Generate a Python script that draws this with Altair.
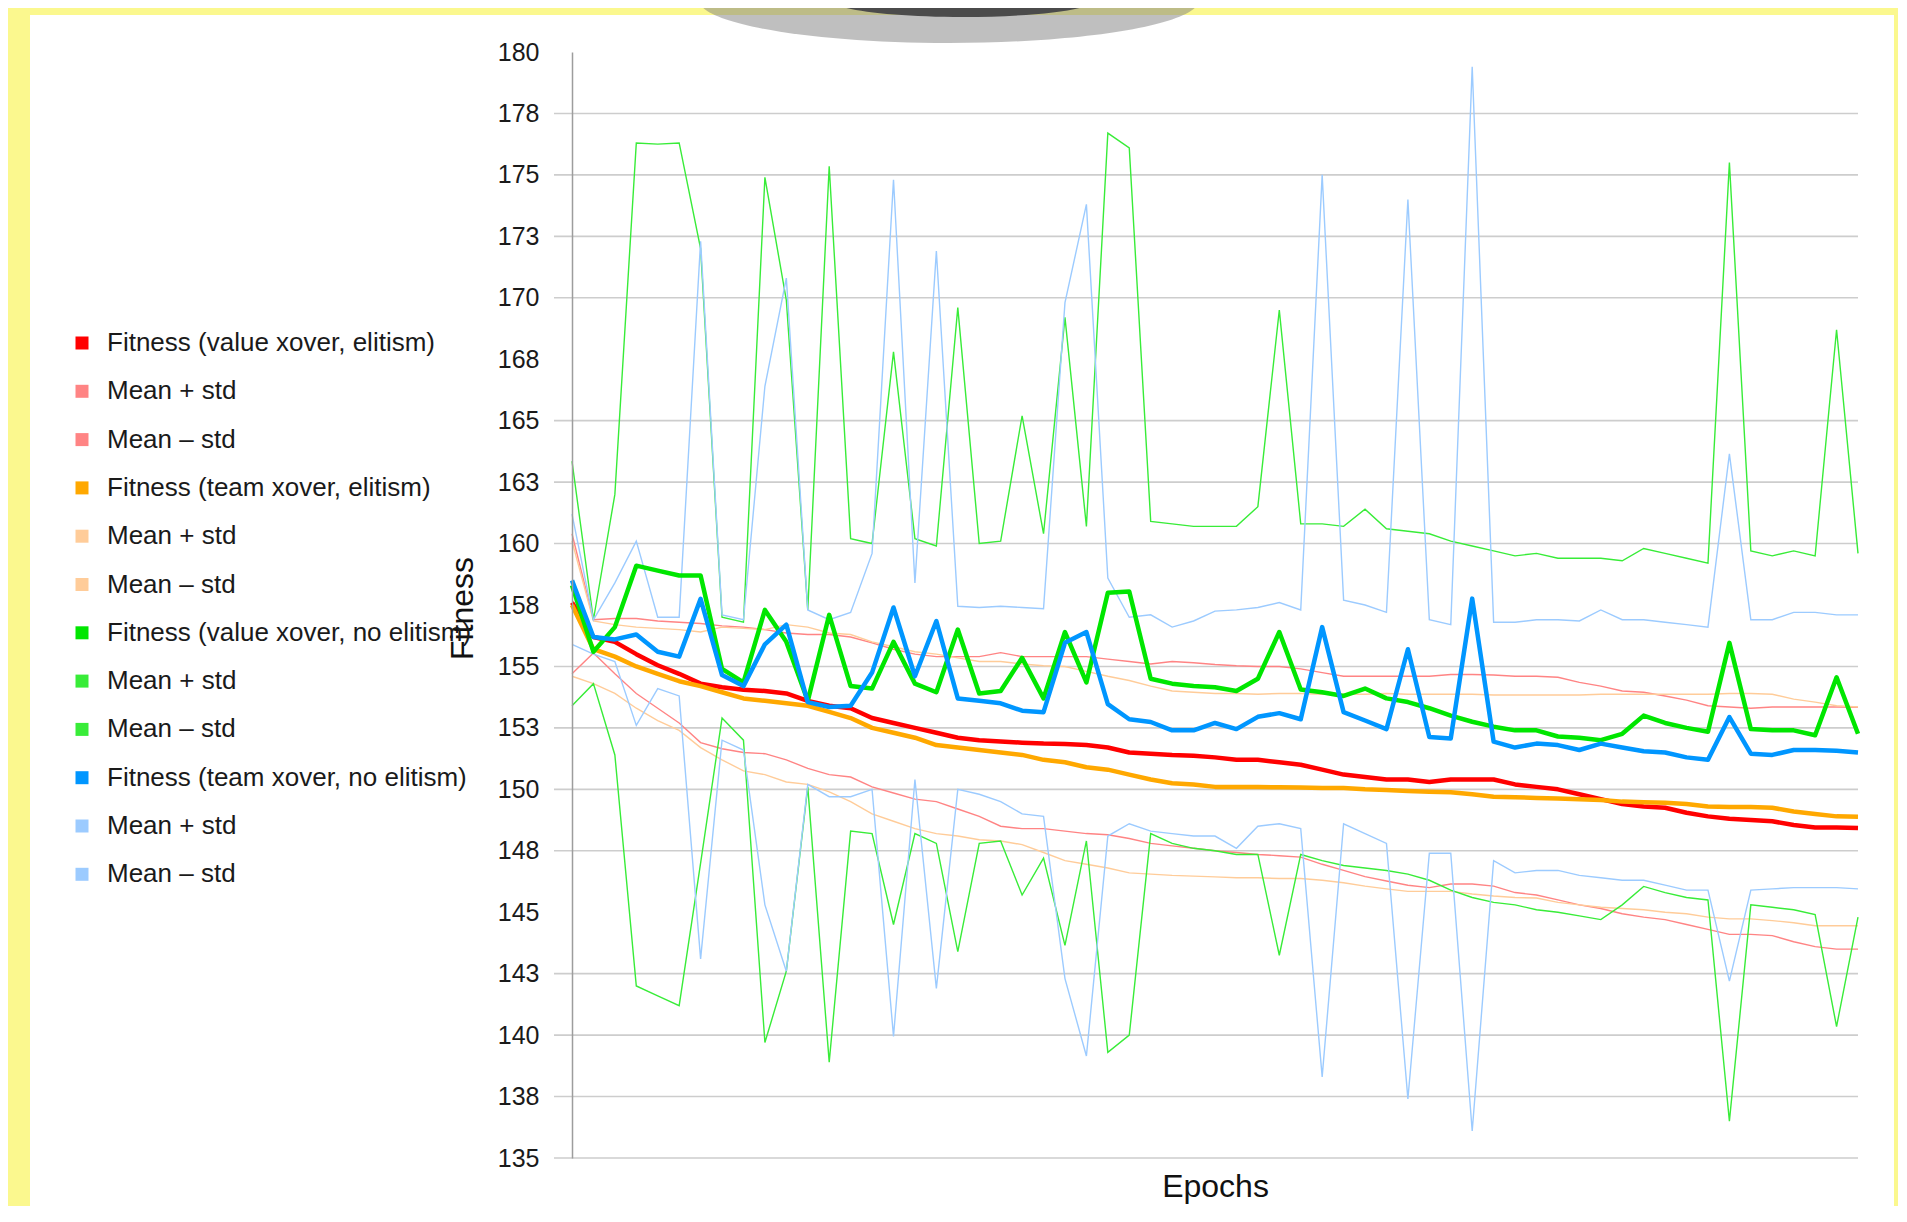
import json
import altair as alt
import pandas as pd

# ---------------- data ----------------
EPOCHS = list(range(61))

# Fitness (value xover, elitism) and its mean +/- std
RED_FIT = [157.6, 156.2, 156.0, 155.5, 155.05, 154.7, 154.3, 154.15, 154.05, 154.0,
           153.9, 153.6, 153.4, 153.3, 152.9, 152.7, 152.5, 152.3, 152.1, 152.0,
           151.95, 151.9, 151.86, 151.84, 151.8, 151.7, 151.5, 151.45, 151.4, 151.37,
           151.3, 151.2, 151.2, 151.1, 151.0, 150.8, 150.6, 150.5, 150.4, 150.4,
           150.3, 150.4, 150.4, 150.4, 150.2, 150.1, 150.0, 149.8, 149.6, 149.4,
           149.3, 149.25, 149.05, 148.9, 148.8, 148.75, 148.7, 148.55, 148.45, 148.45,
           148.43]
RED_PLUS = [160.4, 156.9, 156.95, 156.95, 156.85, 156.8, 156.75, 156.65, 156.6, 156.5,
            156.36, 156.3, 156.3, 156.2, 155.96, 155.7, 155.5, 155.4, 155.4, 155.4,
            155.56, 155.4, 155.4, 155.4, 155.4, 155.3, 155.2, 155.1, 155.2, 155.15,
            155.08, 155.03, 155.0, 155.0, 154.9, 154.75, 154.6, 154.6, 154.6, 154.6,
            154.6, 154.67, 154.67, 154.65, 154.6, 154.6, 154.56, 154.35, 154.2, 154.0,
            153.95, 153.8, 153.63, 153.4, 153.35, 153.3, 153.35, 153.35, 153.35, 153.35,
            153.34]
RED_MINUS = [154.7, 155.55, 154.7, 153.9, 153.3, 152.7, 151.9, 151.65, 151.5, 151.45,
             151.2, 150.85, 150.6, 150.5, 150.1, 149.85, 149.6, 149.5, 149.2, 148.9,
             148.5, 148.4, 148.4, 148.3, 148.2, 148.15, 148.0, 147.8, 147.7, 147.6,
             147.5, 147.43, 147.35, 147.3, 147.24, 146.95, 146.7, 146.45, 146.27, 146.1,
             146.0, 146.15, 146.15, 146.06, 145.8, 145.7, 145.5, 145.3, 145.15, 144.94,
             144.8, 144.7, 144.5, 144.3, 144.1, 144.1, 144.05, 143.8, 143.6, 143.5,
             143.5]

# Fitness (team xover, elitism)
ORA_FIT = [157.5, 155.7, 155.4, 155.0, 154.7, 154.4, 154.2, 153.95, 153.7, 153.6,
           153.5, 153.4, 153.15, 152.9, 152.5, 152.3, 152.1, 151.8, 151.7, 151.6,
           151.5, 151.4, 151.2, 151.1, 150.9, 150.8, 150.6, 150.4, 150.25, 150.2,
           150.1, 150.1, 150.1, 150.08, 150.07, 150.05, 150.05, 150.0, 149.97, 149.93,
           149.9, 149.88, 149.8, 149.7, 149.68, 149.65, 149.63, 149.6, 149.57, 149.5,
           149.47, 149.45, 149.4, 149.3, 149.28, 149.28, 149.25, 149.1, 149.0, 148.9,
           148.88]
ORA_PLUS = [160.1, 156.85, 156.7, 156.6, 156.55, 156.5, 156.4, 156.6, 156.55, 156.5,
            156.7, 156.6, 156.36, 156.3, 156.0, 155.8, 155.6, 155.5, 155.35, 155.2,
            155.2, 155.1, 155.03, 155.0, 154.8, 154.6, 154.43, 154.2, 154.0, 153.95,
            153.9, 153.9, 153.87, 153.9, 153.9, 153.87, 153.87, 153.87, 153.9, 153.87,
            153.87, 153.87, 153.87, 153.84, 153.84, 153.84, 153.84, 153.84, 153.87, 153.87,
            153.87, 153.87, 153.87, 153.87, 153.9, 153.9, 153.87, 153.67, 153.55, 153.4,
            153.35]
ORA_MINUS = [154.6, 154.3, 153.9, 153.3, 152.8, 152.4, 151.7, 151.2, 150.75, 150.6,
             150.3, 150.2, 149.9, 149.5, 149.0, 148.7, 148.4, 148.2, 148.1, 147.95,
             147.9, 147.75, 147.43, 147.1, 146.95, 146.8, 146.6, 146.55, 146.5, 146.47,
             146.44, 146.4, 146.4, 146.37, 146.37, 146.3, 146.2, 146.06, 145.95, 145.85,
             145.85, 145.85, 145.74, 145.66, 145.6, 145.58, 145.4, 145.3, 145.2, 145.15,
             145.1, 145.0, 144.94, 144.8, 144.73, 144.73, 144.66, 144.57, 144.45, 144.45,
             144.45]

# Fitness (value xover, no elitism)
GRN_FIT = [158.3, 155.6, 156.6, 159.1, 158.9, 158.7, 158.7, 154.9, 154.35, 157.3,
           156.0, 153.6, 157.1, 154.2, 154.1, 156.0, 154.3, 153.95, 156.5, 153.9,
           154.0, 155.35, 153.7, 156.4, 154.35, 158.0, 158.05, 154.5, 154.3, 154.2,
           154.15, 154.0, 154.5, 156.4, 154.06, 153.95, 153.8, 154.1, 153.7, 153.55,
           153.3, 153.0, 152.75, 152.55, 152.4, 152.4, 152.15, 152.1, 152.0, 152.26,
           153.0, 152.7, 152.5, 152.34, 155.96, 152.45, 152.4, 152.4, 152.2, 154.56,
           152.26]
GRN_PLUS = [163.35, 156.9, 162.0, 176.3, 176.25, 176.3, 172.0, 157.0, 156.8, 174.9,
            169.9, 157.3, 175.35, 160.2, 160.0, 167.8, 160.2, 159.9, 169.6, 160.0,
            160.1, 165.2, 160.4, 169.2, 160.7, 176.7, 176.1, 160.9, 160.8, 160.7,
            160.7, 160.7, 161.5, 169.5, 160.8, 160.8, 160.7, 161.4, 160.6, 160.5,
            160.4, 160.1, 159.9, 159.7, 159.5, 159.6, 159.4, 159.4, 159.4, 159.3,
            159.8, 159.6, 159.4, 159.2, 175.5, 159.7, 159.5, 159.7, 159.5, 168.7,
            159.6]
GRN_MINUS = [153.4, 154.3, 151.4, 142.0, 141.6, 141.2, 147.0, 152.9, 152.0, 139.7,
             142.6, 150.1, 138.9, 148.3, 148.2, 144.5, 148.2, 147.8, 143.4, 147.8,
             147.9, 145.7, 147.2, 143.65, 147.9, 139.3, 140.0, 148.2, 147.8, 147.6,
             147.5, 147.35, 147.35, 143.25, 147.35, 147.1, 146.9, 146.8, 146.7, 146.55,
             146.3, 145.9, 145.6, 145.4, 145.3, 145.1, 145.0, 144.85, 144.7, 145.3,
             146.05, 145.8, 145.6, 145.5, 136.5, 145.3, 145.2, 145.1, 144.9, 140.35,
             144.8]

# Fitness (team xover, no elitism)
BLU_FIT = [158.5, 156.2, 156.1, 156.3, 155.6, 155.4, 157.75, 154.65, 154.2, 155.9,
           156.7, 153.55, 153.35, 153.4, 154.75, 157.4, 154.6, 156.85, 153.7, 153.6,
           153.5, 153.2, 153.14, 155.96, 156.4, 153.47, 152.85, 152.74, 152.4, 152.4,
           152.7, 152.45, 152.95, 153.1, 152.85, 156.6, 153.14, 152.8, 152.45, 155.7,
           152.13, 152.07, 157.76, 151.94, 151.7, 151.86, 151.8, 151.6, 151.86, 151.7,
           151.55, 151.5, 151.3, 151.2, 152.94, 151.45, 151.4, 151.6, 151.6, 151.57,
           151.5]
BLU_PLUS = [161.2, 156.9, 158.4, 160.1, 157.0, 157.0, 172.3, 157.1, 156.9, 166.4,
            170.8, 157.3, 156.9, 157.2, 159.6, 174.8, 158.4, 171.9, 157.45, 157.4,
            157.45, 157.4, 157.35, 169.8, 173.8, 158.6, 157.0, 157.1, 156.6, 156.85,
            157.25, 157.3, 157.4, 157.6, 157.3, 175.0, 157.7, 157.5, 157.2, 174.0,
            156.9, 156.7, 179.4, 156.8, 156.8, 156.9, 156.9, 156.85, 157.3, 156.9,
            156.9, 156.8, 156.7, 156.6, 163.65, 156.9, 156.9, 157.2, 157.2, 157.1,
            157.1]
BLU_MINUS = [155.9, 155.5, 155.2, 152.6, 154.1, 153.8, 143.1, 152.0, 151.6, 145.3,
             142.6, 150.2, 149.7, 149.7, 150.0, 139.95, 150.4, 141.9, 150.0, 149.8,
             149.5, 149.0, 148.9, 142.3, 139.15, 148.1, 148.6, 148.3, 148.2, 148.1,
             148.1, 147.6, 148.5, 148.6, 148.4, 138.3, 148.6, 148.2, 147.8, 137.4,
             147.4, 147.4, 136.1, 147.1, 146.6, 146.7, 146.7, 146.5, 146.4, 146.3,
             146.3, 146.1, 145.9, 145.9, 142.2, 145.9, 145.95, 146.0, 146.0, 146.0,
             145.95]

SERIES_KEYS = ["s0", "s1", "s2", "s3", "s4", "s5", "s6", "s7", "s8", "s9", "s10", "s11"]
SERIES_NAMES = [
    "Fitness (value xover, elitism)", "Mean + std", "Mean \u2013 std",
    "Fitness (team xover, elitism)", "Mean + std", "Mean \u2013 std",
    "Fitness (value xover, no elitism)", "Mean + std", "Mean \u2013 std",
    "Fitness (team xover, no elitism)", "Mean + std", "Mean \u2013 std",
]
SERIES_VALUES = [RED_FIT, RED_PLUS, RED_MINUS, ORA_FIT, ORA_PLUS, ORA_MINUS,
                 GRN_FIT, GRN_PLUS, GRN_MINUS, BLU_FIT, BLU_PLUS, BLU_MINUS]
SERIES_COLORS = ["#ff0000", "#ff8484", "#ff8484",
                 "#ffa800", "#ffcc99", "#ffcc99",
                 "#00e600", "#38ec38", "#38ec38",
                 "#0096ff", "#9ccbff", "#9ccbff"]
MAIN_KEYS = ["s0", "s3", "s6", "s9"]

TICK_VALUES = [135, 137.5, 140, 142.5, 145, 147.5, 150, 152.5, 155, 157.5,
               160, 162.5, 165, 167.5, 170, 172.5, 175, 177.5, 180]
TICK_LABELS = ["135", "138", "140", "143", "145", "148", "150", "153", "155", "158",
               "160", "163", "165", "168", "170", "173", "175", "178", "180"]
GRID_VALUES = [135, 137.5, 140, 142.5, 147.5, 150, 152.5, 155,
               160, 162.5, 165, 170, 172.5, 175, 177.5]

for vals in SERIES_VALUES:
    assert len(vals) == len(EPOCHS), len(vals)

# ---------------- layout / style ----------------
FONT = "Liberation Sans"
W, H = 1286, 1106
YELLOW = "#fbf88e"

rows = []
for key, vals in zip(SERIES_KEYS, SERIES_VALUES):
    for e, v in zip(EPOCHS, vals):
        rows.append({"epoch": e, "value": v, "key": key})
df = pd.DataFrame(rows)
df_main = df[df["key"].isin(MAIN_KEYS)]
df_thin = df[~df["key"].isin(MAIN_KEYS)]
df_grid = pd.DataFrame({"value": GRID_VALUES})
one = pd.DataFrame({"a": [0]})

yscale = alt.Scale(domain=[135, 180], nice=False, zero=False)
xscale = alt.Scale(domain=[0, 60], nice=False, zero=False)

tick_expr = json.dumps(TICK_LABELS) + "[round((datum.value - 135) / 2.5)]"
yaxis = alt.Axis(values=TICK_VALUES, labelExpr=tick_expr, grid=False, ticks=False,
                 labelPadding=33, labelFontSize=25, labelFont=FONT, labelColor="#1a1a1a",
                 domainColor="#9d9d9d", domainWidth=1.5, zindex=1,
                 title="Fitness", titleFont=FONT, titleFontSize=32, titleFontWeight="normal",
                 titleColor="#111111", titleX=-100, titleY=556, titleBaseline="alphabetic",
                 titleAlign="center")
xaxis = alt.Axis(labels=False, ticks=False, grid=False, domain=False, zindex=1,
                 title="Epochs", titleFont=FONT, titleFontSize=32, titleFontWeight="normal",
                 titleColor="#111111", titleY=38, titleBaseline="alphabetic")

name_expr = json.dumps(SERIES_NAMES) + "[toNumber(slice(datum.label, 1))]"
legend = alt.Legend(
    orient="none", legendX=-503, legendY=278, title=None, padding=0, zindex=2,
    symbolType="square", symbolSize=1, symbolStrokeWidth=12, symbolOpacity=1,
    labelFont=FONT, labelFontSize=26, labelColor="#1a1a1a", labelOffset=12,
    labelLimit=0, rowPadding=-1.7, labelExpr=name_expr,
)
color = alt.Color("key:N", scale=alt.Scale(domain=SERIES_KEYS, range=SERIES_COLORS),
                  legend=legend)

# decorative background: white panel and the grey oval of the slide
panel = alt.Chart(one).mark_rect(color="white").encode(
    x=alt.value(-542), x2=alt.value(1322), y=alt.value(-37), y2=alt.value(1170))

def half_ellipse(depth_ratio):
    k = 0.5523
    d = depth_ratio
    return (f"M-1,0 C-1,{k*d:.4f} {-k:.4f},{d:.4f} 0,{d:.4f} "
            f"C{k:.4f},{d:.4f} 1,{k*d:.4f} 1,0 Z")

shadow = alt.Chart(one).mark_point(shape=half_ellipse(43 / 250), filled=True,
                                   color="#808080", opacity=0.5, strokeWidth=0).encode(
    x=alt.value(377), y=alt.value(-52), size=alt.value(500 * 500))
dark = alt.Chart(one).mark_point(shape=half_ellipse(17 / 132), filled=True,
                                 color="#4b4b4b", opacity=1, strokeWidth=0).encode(
    x=alt.value(391), y=alt.value(-52), size=alt.value(264 * 264))

grid = alt.Chart(df_grid).mark_rule(color="#cdcdcd", strokeWidth=1.6).encode(
    y=alt.Y("value:Q", scale=yscale, axis=yaxis),
    x=alt.value(-18), x2=alt.value(W))

thin = alt.Chart(df_thin).mark_line().encode(
    x=alt.X("epoch:Q", scale=xscale, axis=xaxis),
    y=alt.Y("value:Q", scale=yscale, axis=yaxis),
    color=color, detail="key:N", strokeWidth=alt.value(1.4))

main = alt.Chart(df_main).mark_line(strokeJoin="round").encode(
    x=alt.X("epoch:Q", scale=xscale, axis=xaxis),
    y=alt.Y("value:Q", scale=yscale, axis=yaxis),
    color=color, detail="key:N", strokeWidth=alt.value(4.5))

chart = alt.layer(panel, shadow, dark, grid, thin, main).properties(
    width=W, height=H,
    autosize=alt.AutoSizeParams(type="none"),
    padding={"left": 564, "top": 44, "right": 40, "bottom": 48},
    background=YELLOW,
).configure_view(stroke=None)

chart.save("out.html", embed_options={"renderer": "svg", "actions": False})
